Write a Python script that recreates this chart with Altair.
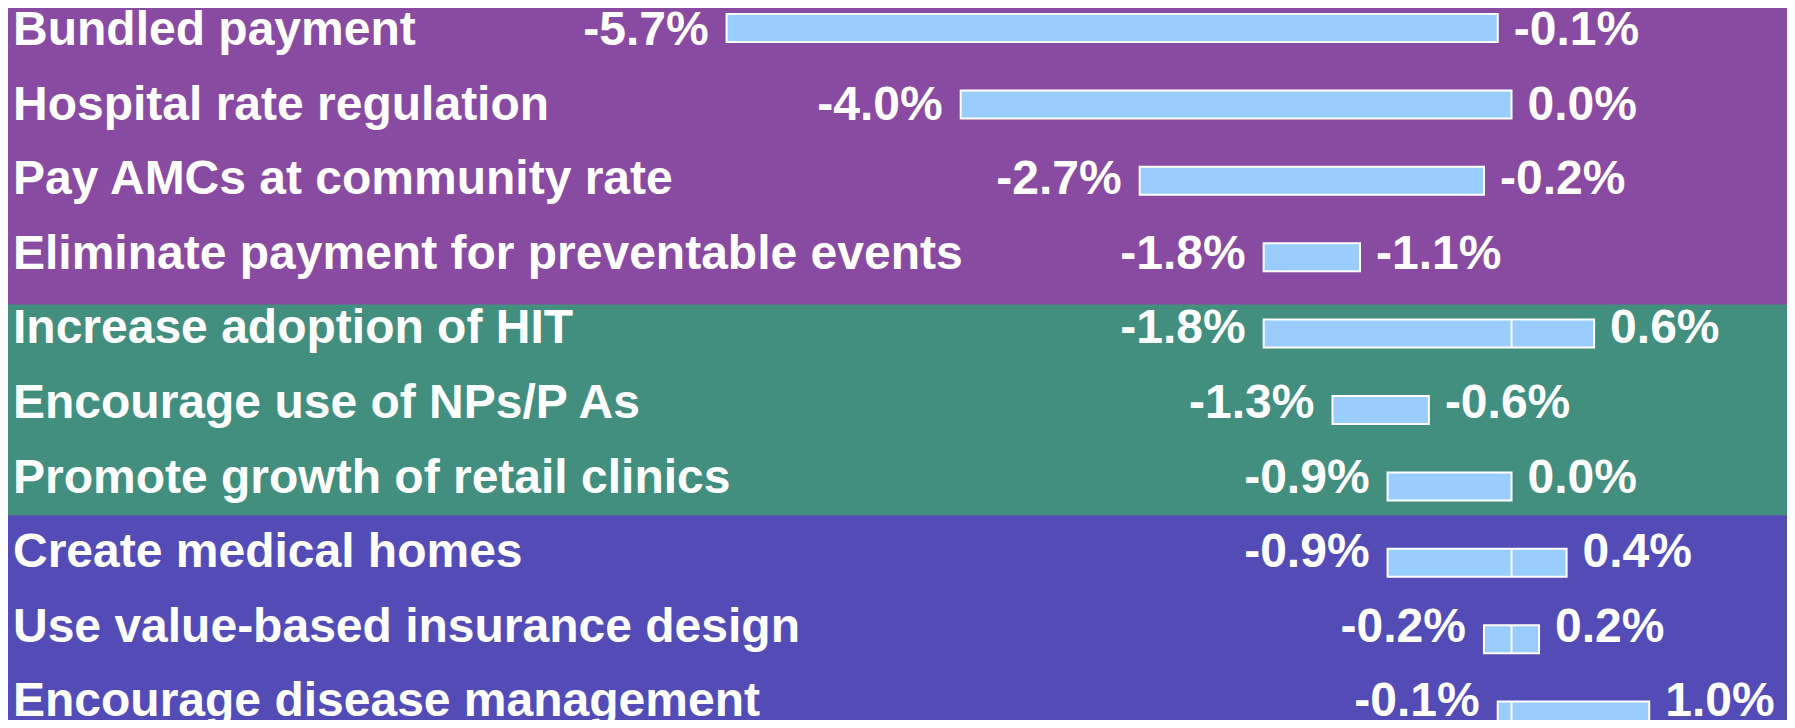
import altair as alt
import pandas as pd

# ---- data ----
categories = [
    "Bundled payment",
    "Hospital rate regulation",
    "Pay AMCs at community rate",
    "Eliminate payment for preventable events",
    "Increase adoption of HIT",
    "Encourage use of NPs/P As",
    "Promote growth of retail clinics",
    "Create medical homes",
    "Use value-based insurance design",
    "Encourage disease management",
]
low_values = [-5.7, -4.0, -2.7, -1.8, -1.8, -1.3, -0.9, -0.9, -0.2, -0.1]
high_values = [-0.1, 0.0, -0.2, -1.1, 0.6, -0.6, 0.0, 0.4, 0.2, 1.0]
group_names = ["Payment", "Delivery", "Consumer"]
group_sizes = [4, 3, 3]
group_colors = ["#894BA1", "#428F80", "#534CB7"]

# ---- layout / style ----
W, H = 1779, 712
BAR_HALF = 0.183
BAND_SHIFT = 0.12
FONT = "Liberation Sans"
FS = 48

rows = pd.DataFrame({
    "category": categories,
    "low": low_values,
    "high": high_values,
    "row": list(range(len(categories))),
})
rows["y0"] = rows["row"] - BAR_HALF
rows["y1"] = rows["row"] + BAR_HALF
rows["low_label"] = [f"{v:.1f}%" for v in low_values]
rows["high_label"] = [f"{v:.1f}%" for v in high_values]

# group bands
edges = [-1.5]
acc = -0.5
for s in group_sizes:
    acc += s
    edges.append(acc)
edges[-1] = len(categories) + 1
edges[1] += BAND_SHIFT
edges[2] -= BAND_SHIFT
bands = pd.DataFrame({
    "group": group_names,
    "b0": edges[:-1],
    "b1": edges[1:],
})

# plot area starts at page x=8, y=8
ppu_x = 137.7
zero_x = 1511.5 - 8
xscale = alt.Scale(domain=[-zero_x / ppu_x, (W - zero_x) / ppu_x], nice=False, zero=False)

# scale for bars / bands (row centres)
ppu_y = 76.4
row0_y = 28 - 8
yscale = alt.Scale(domain=[-row0_y / ppu_y, (H - row0_y) / ppu_y], nice=False, zero=False, reverse=True)

# scale for text (baselines)
ppu_t = 74.6
row0_t = 45 - 8
tscale = alt.Scale(domain=[-row0_t / ppu_t, (H - row0_t) / ppu_t], nice=False, zero=False, reverse=True)

band_layer = alt.Chart(bands).mark_rect(strokeWidth=0).encode(
    y=alt.Y("b0:Q", scale=yscale, axis=None),
    y2="b1:Q",
    x=alt.value(0),
    x2=alt.value(W),
    color=alt.Color("group:N", scale=alt.Scale(domain=group_names, range=group_colors), legend=None),
)

base = alt.Chart(rows)

bars = base.mark_rect(fill="#99CCFF", stroke="white", strokeWidth=2).encode(
    x=alt.X("low:Q", scale=xscale, axis=None),
    x2="high:Q",
    y=alt.Y("y0:Q", scale=yscale, axis=None),
    y2="y1:Q",
)

divider = base.transform_filter(
    (alt.datum.low < 0) & (alt.datum.high > 0)
).transform_calculate(zero="0").mark_rule(color="white", strokeWidth=2).encode(
    x=alt.X("zero:Q", scale=xscale, axis=None),
    y=alt.Y("y0:Q", scale=yscale, axis=None),
    y2="y1:Q",
)

text_kw = dict(font=FONT, fontWeight="bold", fontSize=FS, color="white",
               baseline="alphabetic")

row_labels = base.mark_text(align="left", **text_kw).encode(
    x=alt.value(5),
    y=alt.Y("row:Q", scale=tscale, axis=None),
    text="category:N",
)

low_labels = base.mark_text(align="right", dx=-18, **text_kw).encode(
    x=alt.X("low:Q", scale=xscale, axis=None),
    y=alt.Y("row:Q", scale=tscale, axis=None),
    text="low_label:N",
)

high_labels = base.mark_text(align="left", dx=16, **text_kw).encode(
    x=alt.X("high:Q", scale=xscale, axis=None),
    y=alt.Y("row:Q", scale=tscale, axis=None),
    text="high_label:N",
)

chart = alt.layer(
    band_layer, bars, divider, row_labels, low_labels, high_labels
).resolve_scale(
    y="independent"
).properties(
    width=W,
    height=H,
    padding=0,
    autosize=alt.AutoSizeParams(type="none"),
    background="#894BA1",
).configure_view(stroke=None)

chart.save("out.html", embed_options={"renderer": "svg", "actions": False})
